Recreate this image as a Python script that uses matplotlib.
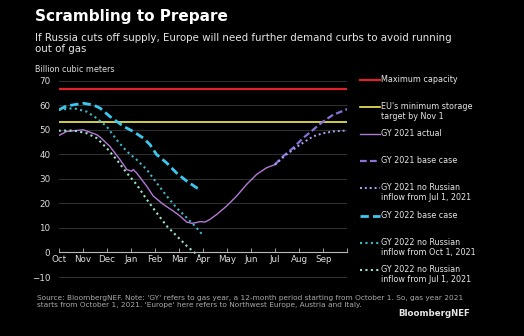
import numpy as np
import matplotlib.pyplot as plt
from matplotlib.lines import Line2D

# months counted from Oct 1 (0) to end of Sep (12)
month_labels = ['Oct', 'Nov', 'Dec', 'Jan', 'Feb', 'Mar', 'Apr', 'May', 'Jun', 'Jul', 'Aug', 'Sep']

max_capacity = 66.5
eu_target = 53.2

gy21_actual_x = [0, 0.33, 1.02, 1.58, 1.72, 2.13, 2.55, 2.83, 3.03, 3.10, 3.24, 3.66, 3.93, 4.35,
                 4.76, 5.04, 5.32, 5.53, 5.73, 5.87, 6.08, 6.29, 6.57, 6.98, 7.40, 7.81, 8.23, 8.64, 8.99]
gy21_actual_y = [47.6, 49.3, 50.0, 48.0, 47.0, 43.2, 37.8, 33.8, 33.1, 33.8, 32.4, 27.0, 23.0, 19.6,
                 16.9, 14.9, 12.4, 11.9, 12.2, 12.6, 12.4, 13.5, 15.5, 18.9, 23.0, 27.7, 31.8, 34.5, 35.8]

gy21_base_x = [8.99, 9.33, 9.75, 10.16, 10.58, 11.0, 11.41, 12.0]
gy21_base_y = [35.8, 39.2, 42.6, 46.6, 50.0, 53.4, 56.1, 58.4]

gy21_norus_x = [8.99, 9.47, 10.03, 10.58, 11.0, 11.41, 12.0]
gy21_norus_y = [35.8, 39.9, 43.9, 47.3, 48.6, 49.3, 49.7]

gy22_base_x = [0, 0.33, 1.02, 1.44, 1.72, 2.13, 2.41, 2.69, 3.10, 3.52, 3.80, 4.07, 4.49, 4.90, 5.32, 5.73, 5.87]
gy22_base_y = [58.1, 59.7, 60.8, 60.1, 58.8, 55.4, 53.4, 51.4, 49.3, 46.6, 43.9, 39.9, 36.5, 32.4, 29.1, 26.4, 25.7]

gy22_oct_x = [0, 0.61, 1.16, 1.58, 1.99, 2.41, 2.83, 3.24, 3.66, 4.07, 4.49, 4.90, 5.32, 5.73, 5.96]
gy22_oct_y = [58.1, 58.8, 57.4, 54.7, 51.4, 45.9, 41.2, 37.8, 33.8, 28.4, 23.0, 18.2, 14.2, 10.1, 7.4]

gy22_jul_x = [0, 0.61, 1.16, 1.58, 1.99, 2.41, 2.83, 3.24, 3.66, 4.07, 4.49, 4.90, 5.32, 5.73, 5.87]
gy22_jul_y = [49.6, 49.7, 48.6, 46.6, 42.6, 37.8, 32.4, 27.7, 21.6, 16.2, 10.8, 6.8, 2.7, -0.7, -1.4]

bg = 'black'
c_red = '#e0202a'
c_yellow = '#f2ee5a'
c_actual = '#b27ad6'
c_base21 = '#8a72d8'
c_norus21 = '#a4a6f4'
c_base22 = '#3cc8ee'
c_oct22 = '#3fb8c8'
c_jul22 = '#9be6c6'

plt.rcParams['font.family'] = 'DejaVu Sans'
fig = plt.figure(figsize=(5.24, 3.36), dpi=100, facecolor=bg)
W, H = 524, 336
ax = fig.add_axes([58.7 / W, 1 - 279.5 / H, (347.3 - 58.7) / W, (279.5 - 78.2) / H])
ax.set_facecolor(bg)

ax.set_xlim(0, 12)
ax.set_ylim(-11, 71)
ax.set_yticks(np.arange(-10, 71, 10))
ax.grid(axis='y', color='#3a3a3a', linewidth=0.6)
ax.set_axisbelow(True)
for s in ['top', 'right', 'left']:
    ax.spines[s].set_visible(False)
ax.spines['bottom'].set_position(('data', 0))
ax.spines['bottom'].set_color('#bbbbbb')
ax.spines['bottom'].set_linewidth(0.8)
ax.set_xticks(np.arange(0, 13, 1))
ax.set_xticklabels(month_labels + [''])
ax.tick_params(axis='x', colors='#bbbbbb', length=3, width=0.6, direction='in', pad=2,
               labelsize=6.3, labelcolor='#dddddd')
ax.tick_params(axis='y', length=0, labelsize=6.3, labelcolor='#dddddd', pad=6)

ax.axhline(max_capacity, color=c_red, lw=1.6)
ax.axhline(eu_target, color=c_yellow, lw=1.2)
ax.plot(gy21_actual_x, gy21_actual_y, color=c_actual, lw=1.0)
ax.plot(gy21_base_x, gy21_base_y, color=c_base21, lw=1.6, ls=(0, (3, 1.5)))
ax.plot(gy21_norus_x, gy21_norus_y, color=c_norus21, lw=1.4, ls=(0, (1, 1.5)))
ax.plot(gy22_base_x, gy22_base_y, color=c_base22, lw=2.0, ls=(0, (3, 1.5)))
ax.plot(gy22_oct_x, gy22_oct_y, color=c_oct22, lw=1.5, ls=(0, (1, 1.6)))
ax.plot(gy22_jul_x, gy22_jul_y, color=c_jul22, lw=1.5, ls=(0, (1, 1.6)))

# legend drawn by hand to keep Bloomberg spacing
legend_items = [
    (c_red, '-', 1.6, 'Maximum capacity'),
    (c_yellow, '-', 1.2, "EU's minimum storage\ntarget by Nov 1"),
    (c_actual, '-', 1.0, 'GY 2021 actual'),
    (c_base21, (0, (3, 1.5)), 1.6, 'GY 2021 base case'),
    (c_norus21, (0, (1, 1.5)), 1.4, 'GY 2021 no Russian\ninflow from Jul 1, 2021'),
    (c_base22, (0, (3, 1.5)), 2.0, 'GY 2022 base case'),
    (c_oct22, (0, (1, 1.6)), 1.5, 'GY 2022 no Russian\ninflow from Oct 1, 2021'),
    (c_jul22, (0, (1, 1.6)), 1.5, 'GY 2022 no Russian\ninflow from Jul 1, 2021'),
]
for i, (col, ls, lw, lab) in enumerate(legend_items):
    yy = 1 - (80 + i * 27.1) / H
    fig.add_artist(Line2D([360 / W, 380 / W], [yy, yy], color=col, ls=ls, lw=lw,
                          transform=fig.transFigure))
    fig.text(381 / W, yy + 5 / H, lab, color='#e6e6e6', fontsize=5.8, va='top', ha='left',
             linespacing=1.15)

fig.text(35 / W, 1 - 16 / H, 'Scrambling to Prepare', color='white', fontsize=11,
         fontweight='bold', va='center')
fig.text(35 / W, 1 - 43.5 / H,
         'If Russia cuts off supply, Europe will need further demand curbs to avoid running\nout of gas',
         color='#e6e6e6', fontsize=7.4, va='center', linespacing=1.2)
fig.text(35 / W, 1 - 70 / H, 'Billion cubic meters', color='#dddddd', fontsize=5.8, va='center')
fig.text(37 / W, 1 - 301.5 / H,
         "Source: BloombergNEF. Note: 'GY' refers to gas year, a 12-month period starting from October 1. So, gas year 2021\n"
         "starts from October 1, 2021. 'Europe' here refers to Northwest Europe, Austria and Italy.",
         color='#aaaaaa', fontsize=5.3, va='center', linespacing=1.25)
fig.text(470 / W, 1 - 314 / H, 'BloombergNEF', color='#e6e6e6', fontsize=6.2,
         fontweight='bold', ha='right', va='center')

fig.savefig('out.png', dpi=100, facecolor=bg)
